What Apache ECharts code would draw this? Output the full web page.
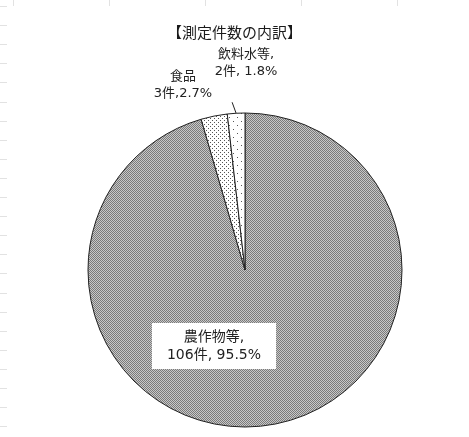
<!DOCTYPE html>
<html>
<head>
<meta charset="utf-8">
<script src="https://cdn.jsdelivr.net/npm/echarts@6/dist/echarts.min.js"></script>
<style>
  html, body { margin: 0; padding: 0; background: #fff; }
  #chart { width: 469px; height: 437px; }
</style>
</head>
<body>
<div id="chart"></div>
<script>
const categories = ['農作物等', '食品', '飲料水等']
const counts = [106, 3, 2]
const percents = ['95.5%', '2.7%', '1.8%']
const nameSep = [',', '', ',']
const countSep = [', ', ',', ', ']

// where each label sits (centre of text block)
const labelPos = [[214, 346], [183, 85], [246, 63]]

const FONT = '"DejaVu Sans", "Noto Sans CJK JP", sans-serif'

main()

function main() {
  const chart = echarts.init(document.getElementById('chart'))

  const fills = [
    checker(),
    dots(4, [[0, 0], [2, 2]], '#555'),
    dots(8, [[1, 1], [5, 5]], '#555')
  ]

  const data = categories.map((name, i) => {
    return {
      name: name,
      value: counts[i],
      itemStyle: { color: { image: fills[i], repeat: 'repeat' } },
      label: i === 0 ? {
        backgroundColor: '#fff',
        padding: [5, 15],
        fontSize: 14,
        lineHeight: 18
      } : {},
      labelLine: { show: i === 2 }
    }
  })

  const option = {
    animation: false,
    backgroundColor: '#fff',
    title: {
      text: '【測定件数の内訳】',
      left: 'center',
      top: 20,
      textStyle: {
        fontFamily: 'Noto Sans CJK JP',
        fontSize: 15,
        fontWeight: 'normal',
        color: '#1a1a1a'
      }
    },
    graphic: sheetMarks(),
    series: [
      {
        type: 'pie',
        center: [245, 270],
        radius: 157,
        startAngle: 90,
        clockwise: true,
        avoidLabelOverlap: false,
        silent: true,
        itemStyle: { borderColor: '#222', borderWidth: 1 },
        label: {
          show: true,
          position: 'outside',
          fontFamily: FONT,
          fontSize: 13,
          lineHeight: 17,
          color: '#222',
          align: 'center',
          formatter: (p) => {
            const i = p.dataIndex
            return categories[i] + nameSep[i] + '\n' + counts[i] + '件' + countSep[i] + percents[i]
          }
        },
        labelLine: {
          show: false,
          length: 10,
          length2: 0,
          lineStyle: { color: '#222', width: 1 }
        },
        labelLayout: (params) => {
          const i = params.dataIndex
          const out = {
            x: labelPos[i][0],
            y: labelPos[i][1],
            align: 'center',
            verticalAlign: 'middle'
          }
          if (i === 2 && params.labelLinePoints) {
            const p0 = params.labelLinePoints[0]
            const p1 = [p0[0] - 4, p0[1] - 11]
            out.labelLinePoints = [p0, p1, p1]
          }
          return out
        },
        data: data
      }
    ]
  }
  chart.setOption(option)
}

function checker() {
  const c = document.createElement('canvas')
  c.width = 2
  c.height = 2
  const ctx = c.getContext('2d')
  ctx.fillStyle = '#c8c8c8'
  ctx.fillRect(0, 0, 2, 2)
  ctx.fillStyle = '#7a7a7a'
  ctx.fillRect(0, 0, 1, 1)
  ctx.fillRect(1, 1, 1, 1)
  return c
}

function dots(size, pts, col) {
  const c = document.createElement('canvas')
  c.width = size
  c.height = size
  const ctx = c.getContext('2d')
  ctx.fillStyle = '#fff'
  ctx.fillRect(0, 0, size, size)
  ctx.fillStyle = col
  pts.forEach(p => ctx.fillRect(p[0], p[1], 1, 1))
  return c
}

// faint spreadsheet cell borders peeking round the chart
function sheetMarks() {
  const els = []
  for (let y = 6; y < 437; y += 19.1) {
    els.push({ type: 'line', silent: true, shape: { x1: 0, y1: Math.round(y) + 0.5, x2: 7, y2: Math.round(y) + 0.5 }, style: { stroke: '#e2e2e2', lineWidth: 1 } })
  }
  ;[13, 109, 205, 301, 397].forEach(x => {
    els.push({ type: 'line', silent: true, shape: { x1: x + 0.5, y1: 0, x2: x + 0.5, y2: 6 }, style: { stroke: '#e2e2e2', lineWidth: 1 } })
  })
  return els
}
</script>
</body>
</html>
